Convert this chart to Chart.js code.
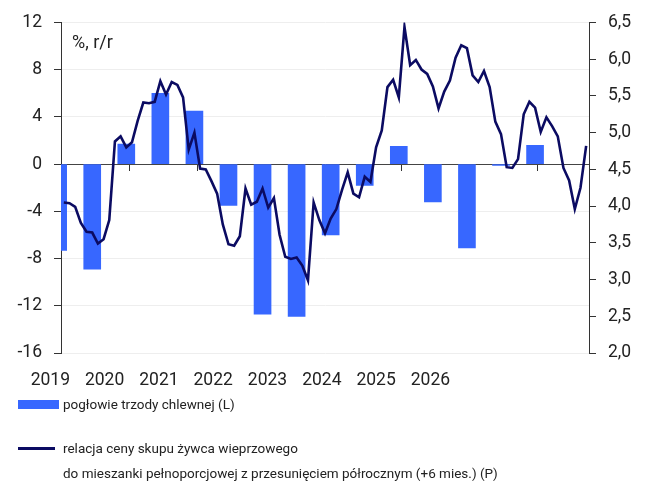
<!DOCTYPE html>
<html lang="pl">
<head>
<meta charset="utf-8">
<title>Pogłowie trzody chlewnej a relacja cen</title>
<script src="https://cdn.jsdelivr.net/npm/chart.js"></script>
<style>
    body { margin: 0; background: #fff; font-family: Roboto, sans-serif; color: #222; }
    #wrap { position: relative; width: 657px; height: 484px; }
    #unit { position: absolute; left: 72px; top: 33px; font-size: 18px; line-height: 18px; }
    .legend-text { position: absolute; left: 63px; font-size: 13.5px; line-height: 25px; white-space: nowrap; }
    .swatch { position: absolute; left: 18px; }
</style>
</head>
<body>
<div id="wrap">
    <canvas id="chart" width="657" height="484"></canvas>
    <div id="unit">%, r/r</div>
    <div class="swatch" id="swatchBar" style="top:400px;width:41px;height:9px"></div>
    <div class="legend-text" style="top:392px">pogłowie trzody chlewnej (L)</div>
    <div class="swatch" id="swatchLine" style="top:447px;width:37px;height:3px"></div>
    <div class="legend-text" style="top:436px">relacja ceny skupu żywca wieprzowego<br>do mieszanki pełnoporcjowej z przesunięciem półrocznym (+6 mies.) (P)</div>
</div>
<script>
// dane: pogłowie (półroczne, % r/r) i relacja cen (miesięczna, przesunięta o 6 mies.)
const barPeriods = ['2018-12', '2019-06', '2019-12', '2020-06', '2020-12', '2021-06', '2021-12', '2022-06',
    '2022-12', '2023-06', '2023-12', '2024-06', '2024-12', '2025-06', '2025-12'];
const herdValues = [-7.3, -8.9, 1.7, 6.0, 4.5, -3.5, -12.7, -12.9, -6.0, -1.8, 1.5, -3.2, -7.1, -0.1, 1.6];

const lineStart = '2019-01';
const ratioValues = [
    4.05, 4.04, 3.99, 3.77, 3.65, 3.64, 3.49, 3.55, 3.81, 4.88, 4.95, 4.80,
    4.87, 5.16, 5.41, 5.40, 5.42, 5.70, 5.52, 5.69, 5.65, 5.48, 4.77, 5.00,
    4.51, 4.50, 4.34, 4.17, 3.75, 3.48, 3.46, 3.59, 4.24, 4.02, 4.06, 4.24,
    3.98, 4.11, 3.61, 3.31, 3.28, 3.30, 3.19, 2.99, 4.05, 3.81, 3.63, 3.83,
    3.96, 4.22, 4.46, 4.17, 4.12, 4.40, 4.33, 4.80, 5.03, 5.62, 5.72, 5.48,
    6.44, 5.92, 5.99, 5.86, 5.80, 5.63, 5.33, 5.56, 5.71, 6.02, 6.19, 6.15,
    5.78, 5.69, 5.84, 5.62, 5.15, 4.98, 4.53, 4.52, 4.64, 5.25, 5.42, 5.34,
    5.01, 5.21, 5.09, 4.95, 4.52, 4.35, 3.96, 4.25, 4.82
];

const yearLabels = ['2019', '2020', '2021', '2022', '2023', '2024', '2025', '2026'];
const leftTicks = [-16, -12, -8, -4, 0, 4, 8, 12];
const rightTicks = [2.0, 2.5, 3.0, 3.5, 4.0, 4.5, 5.0, 5.5, 6.0, 6.5];

const BAR_COLOR = '#3767ff';
const LINE_COLOR = '#0b0b62';
const AXIS_COLOR = '#333333';

function monthIndex(period) {
    const [y, m] = period.split('-').map(Number);
    return (y - 2019) * 12 + (m - 1);
}

const startIdx = monthIndex(lineStart);
const lineData = ratioValues.map((v, i) => ({ x: startIdx + i, y: v }));
const barData = herdValues.map((v, i) => ({ x: monthIndex(barPeriods[i]), y: v }));

document.getElementById('swatchBar').style.background = BAR_COLOR;
document.getElementById('swatchLine').style.background = LINE_COLOR;

Chart.defaults.font.family = 'Roboto';
Chart.defaults.color = '#222';

new Chart(document.getElementById('chart'), {
    data: {
        datasets: [{
            type: 'line',
            label: 'relacja ceny skupu żywca wieprzowego do mieszanki pełnoporcjowej (P)',
            data: lineData,
            xAxisID: 'x',
            yAxisID: 'y2',
            borderColor: LINE_COLOR,
            borderWidth: 2.6,
            pointRadius: 0,
            tension: 0,
            order: 0
        }, {
            type: 'bar',
            label: 'pogłowie trzody chlewnej (L)',
            data: barData,
            xAxisID: 'x',
            yAxisID: 'y',
            backgroundColor: BAR_COLOR,
            barThickness: 17,
            clip: 0,
            order: 1
        }]
    },
    options: {
        responsive: false,
        animation: false,
        layout: { padding: { top: 19, bottom: 91, left: 0, right: 0 } },
        plugins: {
            legend: { display: false },
            tooltip: { enabled: false }
        },
        scales: {
            x: {
                type: 'linear',
                position: { y: 0 },
                offset: false,
                min: -0.5,
                max: 92.5,
                afterBuildTicks: (scale) => {
                    scale.ticks = yearLabels.map((_, k) => ({ value: k * 12 - 0.5 }));
                },
                ticks: { display: false },
                grid: { offset: false, drawOnChartArea: false, drawTicks: true, tickLength: 6, color: AXIS_COLOR },
                border: { color: '#444', width: 1 }
            },
            xl: {
                type: 'linear',
                position: 'bottom',
                offset: false,
                min: 0.197,
                max: 9.921,
                afterBuildTicks: (scale) => {
                    scale.ticks = yearLabels.map((_, i) => ({ value: i }));
                },
                afterFit: (scale) => { scale.height = 40; },
                ticks: {
                    autoSkip: false,
                    maxRotation: 0,
                    padding: 17,
                    font: { size: 17.5 },
                    callback: (v) => yearLabels[v] ?? ''
                },
                grid: { display: false, drawTicks: false },
                border: { display: false }
            },
            y: {
                position: 'left',
                min: -16,
                max: 12,
                afterBuildTicks: (scale) => {
                    scale.ticks = leftTicks.map(v => ({ value: v }));
                },
                afterFit: (scale) => { scale.width = 61; },
                ticks: {
                    padding: 12,
                    font: { size: 17.5 },
                    callback: (v) => String(v)
                },
                grid: { color: '#eeeeee', tickColor: AXIS_COLOR, tickLength: 7 },
                border: { color: AXIS_COLOR, width: 1 }
            },
            y2: {
                position: 'right',
                min: 2,
                max: 6.5,
                afterBuildTicks: (scale) => {
                    scale.ticks = rightTicks.map(v => ({ value: v }));
                },
                afterFit: (scale) => { scale.width = 68; },
                ticks: {
                    padding: 12,
                    font: { size: 17.5 },
                    callback: (v) => v.toFixed(1).replace('.', ',')
                },
                grid: { drawOnChartArea: false, tickColor: AXIS_COLOR, tickLength: 7 },
                border: { color: AXIS_COLOR, width: 1 }
            }
        }
    }
});
</script>
</body>
</html>
